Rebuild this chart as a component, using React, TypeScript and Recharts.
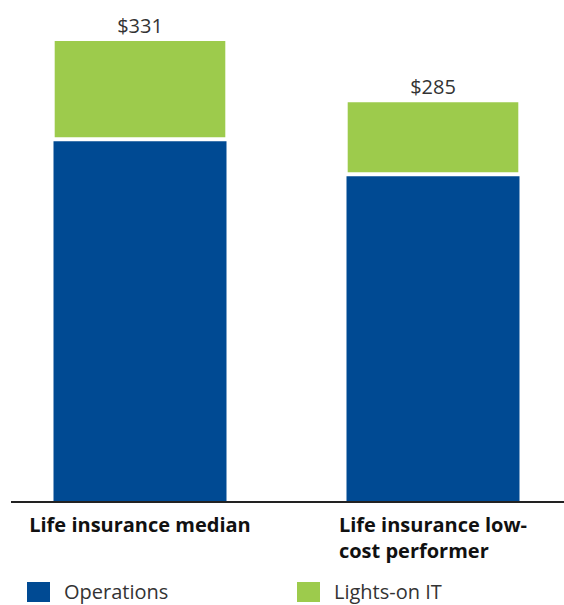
import { useLayoutEffect, useRef, useState } from 'react';
import { BarChart, Bar, XAxis, YAxis, Legend, LabelList, Rectangle } from 'recharts';

const categories = ['Life insurance median', 'Life insurance low-\ncost performer'];
const operations = [259, 234];
const lightsOnIT = [72, 53];
const totals = [331, 285];

const BLUE = '#004a93';
const GREEN = '#9dcb4c';
const FONT = '"Open Sans", sans-serif';

const data = categories.map((name, i) => ({
  name,
  ops: operations[i],
  it: lightsOnIT[i],
  total: totals[i],
}));

function CategoryTick({ x, y, payload }: any) {
  const ref = useRef<SVGTextElement>(null);
  const [w, setW] = useState(0);
  const lines: string[] = String(payload.value).split('\n');

  useLayoutEffect(() => {
    if (ref.current) setW(ref.current.getBBox().width);
  }, [payload.value]);

  const left = x - w / 2;
  return (
    <text
      ref={ref}
      x={left}
      y={y}
      textAnchor="start"
      fontFamily={FONT}
      fontWeight="bold"
      fontSize={20}
      fill="#111"
    >
      {lines.map((line, i) => (
        <tspan key={i} x={left} dy={i === 0 ? 30 : 26}>
          {line}
        </tspan>
      ))}
    </text>
  );
}

// green segment sits a bit inside the blue one, with a white gap below it
function ITShape(props: any) {
  const { x, y, width, height } = props;
  return <Rectangle x={x + 1.2} y={y} width={width - 2.4} height={Math.max(height - 4, 0)} fill={GREEN} />;
}

const legendItems = [
  { label: 'Operations', color: BLUE },
  { label: 'Lights-on IT', color: GREEN },
];

function LegendContent() {
  return (
    <div style={{ display: 'flex', fontFamily: FONT, fontSize: 20, color: '#333' }}>
      {legendItems.map((item) => (
        <div key={item.label} style={{ display: 'flex', alignItems: 'center', width: 274, height: 20 }}>
          <span style={{ width: 23, height: 20, background: item.color, marginRight: 14 }} />
          <span style={{ lineHeight: '20px' }}>{item.label}</span>
        </div>
      ))}
    </div>
  );
}

export default function App() {
  return (
    <div style={{ position: 'absolute', left: 0, top: 0, width: 564, height: 605, background: '#fff' }}>
      <BarChart
        width={564}
        height={605}
        data={data}
        margin={{ top: 14.6, right: 0, left: 11, bottom: 0 }}
        barCategoryGap={0}
      >
        <XAxis
          dataKey="name"
          height={103}
          tickLine={false}
          tickSize={0}
          tickMargin={0}
          axisLine={{ stroke: '#222', strokeWidth: 2 }}
          padding={{ left: -17.5, right: -15.5 }}
          tick={<CategoryTick />}
          interval={0}
        />
        <YAxis hide domain={[0, 350]} />
        <Legend
          layout="horizontal"
          verticalAlign="middle"
          content={<LegendContent />}
          wrapperStyle={{ position: 'absolute', top: 582, left: 27, width: 540 }}
        />
        <Bar dataKey="ops" stackId="a" fill={BLUE} barSize={173} isAnimationActive={false} name="Operations" />
        <Bar dataKey="it" stackId="a" fill={GREEN} barSize={173} shape={<ITShape />} isAnimationActive={false} name="Lights-on IT">
          <LabelList
            dataKey="total"
            position="top"
            offset={8}
            formatter={(v: any) => `$${v}`}
            fill="#333"
            fontSize={20}
            fontFamily={FONT}
          />
        </Bar>
      </BarChart>
    </div>
  );
}
